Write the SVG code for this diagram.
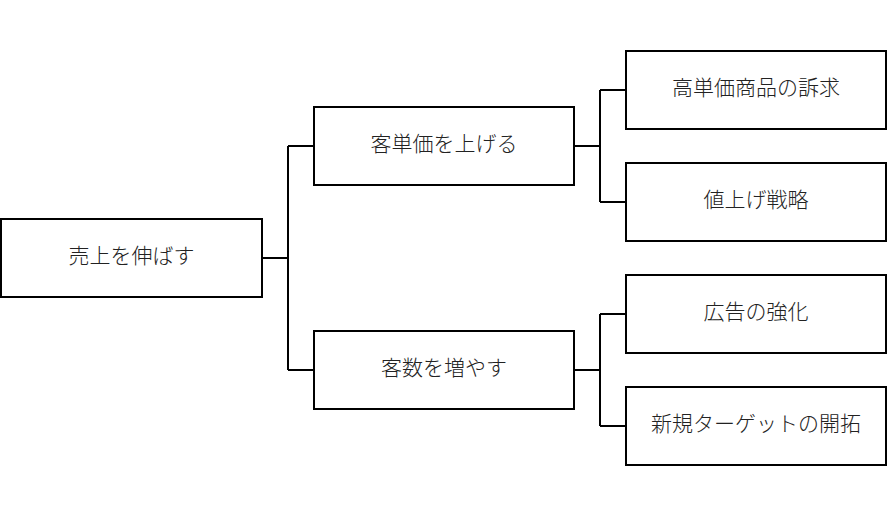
<svg xmlns="http://www.w3.org/2000/svg" width="887" height="517" viewBox="0 0 887 517">
<style>
.box{fill:#fff;stroke:#000;stroke-width:2}
.lbl{font-family:"Noto Sans CJK JP","Noto Sans CJK SC",sans-serif;font-size:21px;fill:#222;text-anchor:middle;dominant-baseline:central;font-weight:300}
.con{fill:none;stroke:#000;stroke-width:2}
</style>
<rect width="887" height="517" fill="#fff"/>
<g id="connectors">
<path class="con" d="M262,258 H288 M288,146 V370 M288,146 H314 M288,370 H314"/>
<path class="con" d="M574,146 H600 M600,90 V202 M600,90 H626 M600,202 H626"/>
<path class="con" d="M574,370 H600 M600,314 V426 M600,314 H626 M600,426 H626"/>
</g>
<g id="root"><rect class="box" x="1" y="219" width="261" height="78"/><text class="lbl" x="131.5" y="254">売上を伸ばす</text></g>
<g id="n1"><rect class="box" x="314" y="107" width="260" height="78"/><text class="lbl" x="444" y="142">客単価を上げる</text></g>
<g id="n2"><rect class="box" x="314" y="331" width="260" height="78"/><text class="lbl" x="444" y="366">客数を増やす</text></g>
<g id="n11"><rect class="box" x="626" y="51" width="260" height="78"/><text class="lbl" x="756" y="86">高単価商品の訴求</text></g>
<g id="n12"><rect class="box" x="626" y="163" width="260" height="78"/><text class="lbl" x="756" y="198">値上げ戦略</text></g>
<g id="n21"><rect class="box" x="626" y="275" width="260" height="78"/><text class="lbl" x="756" y="310">広告の強化</text></g>
<g id="n22"><rect class="box" x="626" y="387" width="260" height="78"/><text class="lbl" x="756" y="422">新規ターゲットの開拓</text></g>
</svg>
